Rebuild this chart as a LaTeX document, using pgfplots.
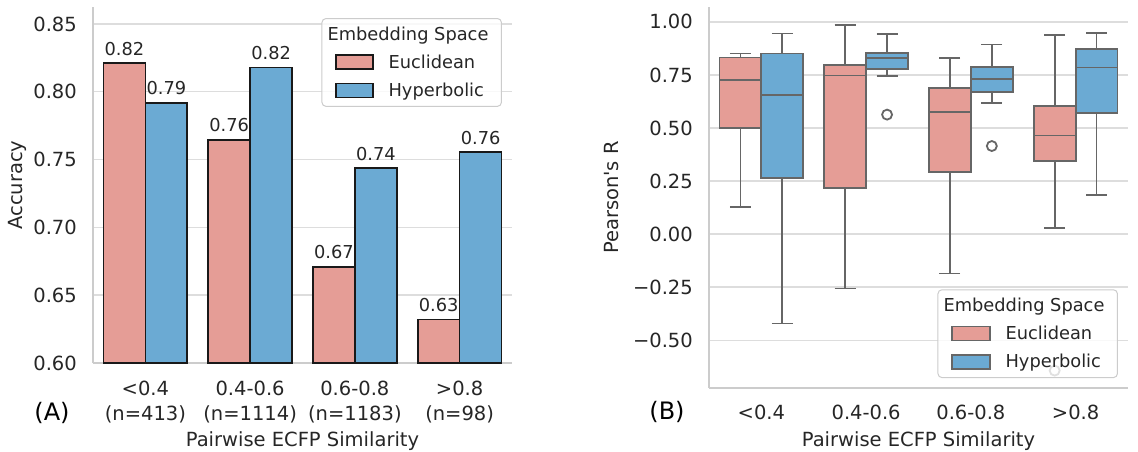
\documentclass[border=0pt]{standalone}
\usepackage{pgfplots}
\pgfplotsset{compat=1.18}
\usepgfplotslibrary{statistics}
\usepackage{fontspec}
\setmainfont{DejaVu Sans}[Ligatures=TeXOff]
\definecolor{eucl}{HTML}{E59D96}
\definecolor{hyp}{HTML}{6BAAD3}
\definecolor{spine}{HTML}{CCCCCC}
\definecolor{gridc}{HTML}{DDDDDD}
\definecolor{boxedge}{HTML}{666666}
\definecolor{txt}{HTML}{262626}
\newcommand{\tickfont}{\fontsize{19.5}{24.7}\selectfont}
\newcommand{\smallfont}{\fontsize{17.8}{20}\selectfont}
\pgfplotsset{
  base/.style={
    scale only axis,
    width=419pt,
    xmin=-0.5, xmax=3.5,
    xtick={0,1,2,3},
    axis x line*=bottom, axis y line*=left,
    axis line style={spine, line width=2pt},
    ymajorgrids, grid style={gridc, line width=1.4pt},
    major tick length=0pt,
    tick label style={font=\tickfont, text=txt},
    /pgf/number format/assume math mode=true,
    /pgf/number format/fixed,
    /pgf/number format/fixed zerofill,
    /pgf/number format/precision=2,
    yticklabel style={inner sep=0pt, anchor=east, xshift=-16pt},
    xticklabel style={inner sep=0pt, anchor=north, align=center},
    legend cell align=left,
    legend style={font=\smallfont, text=txt, draw=spine, line width=1pt,
      rounded corners=4pt, fill=white, fill opacity=0.8, draw opacity=1, text opacity=1,
      nodes={inner sep=0pt}, column sep=15pt, row sep=12.8pt, inner xsep=13pt, inner ysep=8pt},
  },
  barlbl/.style={nodes near coords,
    every node near coord/.append style={font=\smallfont, text=txt, inner sep=0pt, anchor=south, yshift=7pt, xshift=#1}},
  bx/.style={draw=boxedge, line width=1.8pt, forget plot},
}
\begin{document}
\begin{tikzpicture}
\useasboundingbox (0,0) rectangle (1138pt,451pt);
% ---------------- Panel A ----------------
\begin{axis}[base, at={(93pt,88pt)}, anchor=south west, height=356pt,
  ymin=0.6, ymax=0.8625,
  ytick={0.60,0.65,0.70,0.75,0.80,0.85},
  xticklabels={{<0.4\\(n=413)}, {0.4-0.6\\(n=1114)}, {0.6-0.8\\(n=1183)}, {>0.8\\(n=98)}},
  xticklabel style={yshift=-18pt},
  legend style={at={(0.976,0.969)}, anchor=north east},
]
\addplot[ybar, bar width=0.4, bar shift=-0.2, fill=eucl, draw=black!90, line width=1.6pt, forget plot, barlbl=-21pt]
  coordinates {(0,0.821) (1,0.7645) (2,0.671) (3,0.6322)};
\addplot[ybar, bar width=0.4, bar shift=0.2, fill=hyp, draw=black!90, line width=1.6pt, forget plot, barlbl=21pt]
  coordinates {(0,0.7917) (1,0.8178) (2,0.7436) (3,0.7555)};
\addlegendimage{empty legend}
\addlegendentry{\hspace*{-61pt}Embedding Space}
\addlegendimage{legend image code/.code={\draw[sharp corners,fill=eucl,draw=black!90,line width=1.6pt,fill opacity=1] (0pt,-7pt) rectangle (37pt,7pt);}}
\addlegendentry{Euclidean}
\addlegendimage{legend image code/.code={\draw[sharp corners,fill=hyp,draw=black!90,line width=1.6pt,fill opacity=1] (0pt,-7pt) rectangle (37pt,7pt);}}
\addlegendentry{Hyperbolic}
\end{axis}
% ---------------- Panel B ----------------
\begin{axis}[base, at={(709pt,63pt)}, anchor=south west, height=381pt,
  ymin=-0.725, ymax=1.07,
  ytick={-0.5,-0.25,0,0.25,0.5,0.75,1},
  yticklabels={−0.50,−0.25,0.00,0.25,0.50,0.75,1.00},
  xticklabels={<0.4,0.4-0.6,0.6-0.8,>0.8},
  xticklabel style={yshift=-17pt},
  legend style={at={(0.976,0.026)}, anchor=south east},
  boxplot/draw direction=y,
  boxplot/box extend=0.4, boxplot/whisker extend=0.2,
]
% <0.4
\addplot[boxplot prepared={draw position=-0.2, median=0.725, upper quartile=0.832, lower quartile=0.500, upper whisker=0.851, lower whisker=0.127},
  fill=eucl, bx] coordinates {};
\addplot[boxplot prepared={draw position=0.2, median=0.657, upper quartile=0.851, lower quartile=0.264, upper whisker=0.945, lower whisker=-0.421},
  fill=hyp, bx] coordinates {};
% 0.4-0.6
\addplot[boxplot prepared={draw position=0.8, median=0.747, upper quartile=0.796, lower quartile=0.217, upper whisker=0.987, lower whisker=-0.256},
  fill=eucl, bx] coordinates {};
\addplot[boxplot prepared={draw position=1.2, median=0.829, upper quartile=0.854, lower quartile=0.778, upper whisker=0.942, lower whisker=0.744},
  fill=hyp, bx, mark=o, mark size=5pt]
  table[row sep=\\, y index=0] {data\\ 0.563\\};
% 0.6-0.8
\addplot[boxplot prepared={draw position=1.8, median=0.574, upper quartile=0.689, lower quartile=0.291, upper whisker=0.829, lower whisker=-0.186},
  fill=eucl, bx] coordinates {};
\addplot[boxplot prepared={draw position=2.2, median=0.730, upper quartile=0.786, lower quartile=0.670, upper whisker=0.893, lower whisker=0.618},
  fill=hyp, bx, mark=o, mark size=5pt]
  table[row sep=\\, y index=0] {data\\ 0.415\\};
% >0.8
\addplot[boxplot prepared={draw position=2.8, median=0.465, upper quartile=0.602, lower quartile=0.343, upper whisker=0.937, lower whisker=0.028},
  fill=eucl, bx, mark=o, mark size=5pt]
  table[row sep=\\, y index=0] {data\\ -0.643\\};
\addplot[boxplot prepared={draw position=3.2, median=0.785, upper quartile=0.871, lower quartile=0.569, upper whisker=0.948, lower whisker=0.186},
  fill=hyp, bx] coordinates {};
\addlegendimage{empty legend}
\addlegendentry{\hspace*{-62pt}Embedding Space}
\addlegendimage{legend image code/.code={\draw[sharp corners,fill=eucl,draw=boxedge,line width=1.6pt,fill opacity=1] (0pt,-7pt) rectangle (38pt,7pt);}}
\addlegendentry{Euclidean}
\addlegendimage{legend image code/.code={\draw[sharp corners,fill=hyp,draw=boxedge,line width=1.6pt,fill opacity=1] (0pt,-7pt) rectangle (38pt,7pt);}}
\addlegendentry{Hyperbolic}
\end{axis}
% ---------------- labels ----------------
\node[font=\tickfont, text=txt, rotate=90] at (17pt,266pt) {Accuracy};
\node[font=\tickfont, text=txt, rotate=90] at (612pt,253.5pt) {Pearson's R};
\node[font=\tickfont, text=txt, anchor=base] at (302.5pt,4.5pt) {Pairwise ECFP Similarity};
\node[font=\tickfont, text=txt, anchor=base] at (918.5pt,4.5pt) {Pairwise ECFP Similarity};
\node[font=\fontsize{24}{28}\selectfont, text=black] at (52pt,38pt) {(A)};
\node[font=\fontsize{24}{28}\selectfont, text=black] at (667pt,39pt) {(B)};
\end{tikzpicture}
\end{document}
